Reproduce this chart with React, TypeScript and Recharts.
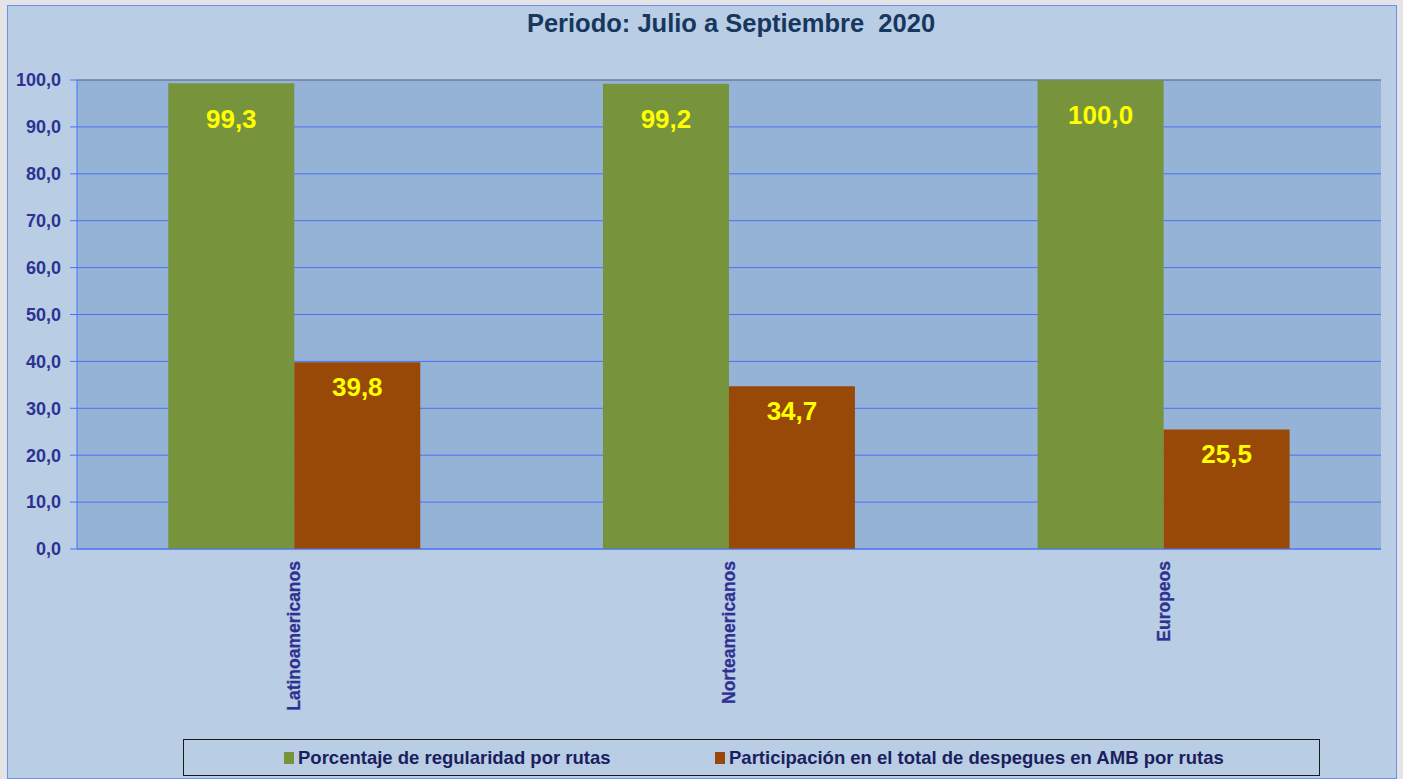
import { Bar, BarChart, CartesianGrid, LabelList, ReferenceLine, XAxis, YAxis } from "recharts";

const categories = ["Latinoamericanos", "Norteamericanos", "Europeos"];
const regularidad = [99.3, 99.2, 100.0];
const participacion = [39.8, 34.7, 25.5];
const yTicks = [0, 10, 20, 30, 40, 50, 60, 70, 80, 90, 100];
const seriesNames = [
  "Porcentaje de regularidad por rutas",
  "Participación en el total de despegues en AMB por rutas",
];
const seriesColors = ["#77933c", "#984807"];

const data = categories.map((name, i) => ({
  name,
  regularidad: regularidad[i],
  participacion: participacion[i],
}));

const fmt = (v: unknown) => Number(v).toFixed(1).replace(".", ",");

const AXIS_BLUE = "#4a72f2";
const TEXT_BLUE = "#2e3192";
const FONT = "'Liberation Sans', Arial, sans-serif";

function XTick({ x, y, payload }: any) {
  return (
    <text
      x={x}
      y={y + 4}
      transform={`rotate(-90 ${x} ${y + 4})`}
      textAnchor="end"
      dy="0.35em"
      fill={TEXT_BLUE}
      stroke={TEXT_BLUE}
      strokeWidth={0.3}
      fontSize={17.5}
      fontWeight="bold"
      fontFamily={FONT}
    >
      {payload.value}
    </text>
  );
}

export default function App() {
  return (
    <div style={{ position: "fixed", inset: 0, background: "#e4e4e4" }}>
      <div
        style={{
          position: "absolute",
          left: 7,
          top: 5,
          width: 1390,
          height: 774,
          boxSizing: "border-box",
          border: "1px solid #6d8ef3",
          background: "#b9cde5",
        }}
      >
        <div
          style={{
            position: "absolute",
            left: 58,
            right: 0,
            top: 4,
            lineHeight: "26px",
            textAlign: "center",
            fontFamily: FONT,
            fontWeight: "bold",
            fontSize: 25.5,
            color: "#17375e",
            whiteSpace: "pre",
          }}
        >
          {"Periodo: Julio a Septiembre  2020"}
        </div>
        <BarChart
          width={1388}
          height={772}
          data={data}
          margin={{ top: 74, right: 15, left: 0, bottom: 59 }}
          barCategoryGap="21%"
          barGap={0}
        >
          <CartesianGrid vertical={false} fill="#95b3d7" stroke={AXIS_BLUE} strokeOpacity={1} />
          <XAxis
            dataKey="name"
            height={170}
            interval={0}
            tickLine={false}
            axisLine={{ stroke: AXIS_BLUE }}
            tick={<XTick />}
          />
          <YAxis
            domain={[0, 100]}
            ticks={yTicks}
            width={69}
            tickSize={7}
            tickMargin={9}
            tickFormatter={fmt}
            axisLine={{ stroke: AXIS_BLUE }}
            tickLine={{ stroke: AXIS_BLUE }}
            tick={{
              fill: TEXT_BLUE,
              fontSize: 18,
              fontWeight: "bold",
              fontFamily: FONT,
            }}
          />
          <YAxis
            yAxisId="right"
            orientation="right"
            domain={[0, 100]}
            width={0}
            tick={false}
            tickLine={false}
            axisLine={{ stroke: "#808080" }}
          />
          <ReferenceLine y={100} stroke="#808080" />
          <Bar dataKey="regularidad" fill={seriesColors[0]} isAnimationActive={false}>
            <LabelList
              dataKey="regularidad"
              position="insideTop"
              offset={26}
              formatter={fmt}
              fill="#ffff00"
              fontSize={26}
              fontWeight="bold"
              fontFamily={FONT}
            />
          </Bar>
          <Bar dataKey="participacion" fill={seriesColors[1]} isAnimationActive={false}>
            <LabelList
              dataKey="participacion"
              position="insideTop"
              offset={15}
              formatter={fmt}
              fill="#ffff00"
              fontSize={26}
              fontWeight="bold"
              fontFamily={FONT}
            />
          </Bar>
        </BarChart>
        <div
          style={{
            position: "absolute",
            left: 175,
            top: 733,
            width: 1137,
            height: 37,
            boxSizing: "border-box",
            border: "1px solid #1a1a1a",
            fontFamily: "'Liberation Sans Narrow', 'Arial Narrow', 'Liberation Sans', sans-serif",
            fontWeight: "bold",
            fontSize: 18.5,
            color: "#1b1f5e",
          }}
        >
          {seriesNames.map((n, i) => (
            <div
              key={n}
              style={{
                position: "absolute",
                left: i === 0 ? 100 : 531,
                top: 0,
                height: 35,
                display: "flex",
                alignItems: "center",
                whiteSpace: "nowrap",
              }}
            >
              <span
                style={{
                  display: "inline-block",
                  width: 10,
                  height: 12,
                  background: seriesColors[i],
                  marginRight: 4,
                }}
              />
              {n}
            </div>
          ))}
        </div>
      </div>
    </div>
  );
}
